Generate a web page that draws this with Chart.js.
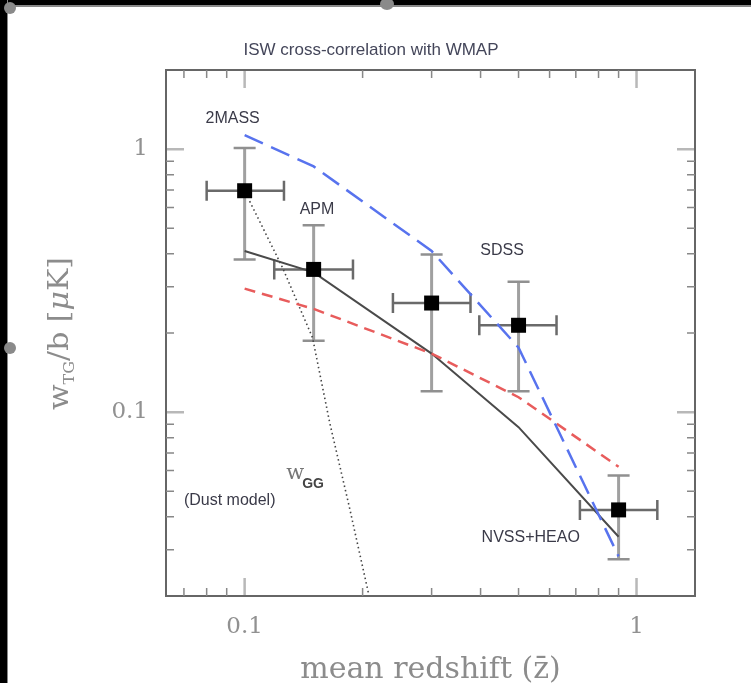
<!DOCTYPE html>
<html><head><meta charset="utf-8">
<script src="https://cdn.jsdelivr.net/npm/chart.js@4.4.1/dist/chart.umd.min.js"></script>
<style>
html,body{margin:0;padding:0;background:#fff;width:751px;height:683px;overflow:hidden;}
#wrap{position:relative;width:751px;height:683px;}
canvas{position:absolute;left:0;top:0;}
.bar{position:absolute;background:#000;}
.dot{position:absolute;background:#8a8a8a;border-radius:50%;}
</style></head><body>
<div id="wrap">
<canvas id="c" width="751" height="683"></canvas>
<div class="bar" style="left:0;top:0;width:751px;height:5px;border-bottom:2px solid #888"></div>
<div class="bar" style="left:0;top:0;width:7px;height:683px;border-right:1px solid #888"></div>
<div class="dot" style="left:380px;top:-2px;width:14px;height:12px"></div>
<div class="dot" style="left:4px;top:342px;width:12px;height:12px"></div>
<div class="dot" style="left:4px;top:2px;width:12px;height:12px"></div>
</div>
<script>
// ---- data ----
const pointNames = ['2MASS', 'APM', 'SDSS-1', 'SDSS-2', 'NVSS+HEAO'];
const zMean = [0.10, 0.15, 0.30, 0.50, 0.90];
const zLow  = [0.080, 0.119, 0.239, 0.397, 0.717];
const zHigh = [0.126, 0.189, 0.377, 0.625, 1.13];
const wTG   = [0.695, 0.349, 0.260, 0.214, 0.0425];
const wLow  = [0.381, 0.187, 0.120, 0.120, 0.0276];
const wHigh = [1.01, 0.514, 0.398, 0.313, 0.0575];

const modelZ     = [0.10, 0.15, 0.30, 0.50, 0.90];
const modelBlue  = [1.13, 0.86, 0.41, 0.176, 0.0283];
const modelRed   = [0.295, 0.247, 0.167, 0.114, 0.062];
const modelBlack = [0.41, 0.34, 0.167, 0.0877, 0.0336];

const dustZ = [0.103, 0.125, 0.149, 0.165, 0.185, 0.207];
const dustW = [0.634, 0.354, 0.192, 0.0906, 0.0436, 0.0205];

const xTickValues = [0.1, 1];
const yTickValues = [0.1, 1];
const xMinorTicks = [0.07, 0.08, 0.09, 0.2, 0.3, 0.4, 0.5, 0.6, 0.7, 0.8, 0.9];
const yMinorTicks = [0.03, 0.04, 0.05, 0.06, 0.07, 0.08, 0.09, 0.2, 0.3, 0.4, 0.5, 0.6, 0.7, 0.8, 0.9];

const titleText = 'ISW cross-correlation with WMAP';
const xTitle = 'mean redshift (z\u0304)';
const labelTexts = ['2MASS', 'APM', 'SDSS', 'NVSS+HEAO', '(Dust model)'];
const labelZ = [0.0932, 0.153, 0.454, 0.537, 0.0916];
const labelW = [1.31, 0.591, 0.413, 0.0333, 0.0463];

// ---- helpers ----
const pts = (xs, ys) => xs.map((x, i) => ({x, y: ys[i]}));

const decor = {
  id: 'decor',
  beforeDatasetsDraw(chart) {
    const {ctx, scales: {x, y}} = chart;
    ctx.save();
    ctx.lineCap = 'butt';
    zMean.forEach((z, i) => {
      const px = x.getPixelForValue(z), py = y.getPixelForValue(wTG[i]);
      const yl = y.getPixelForValue(wLow[i]), yh = y.getPixelForValue(wHigh[i]);
      const xl = x.getPixelForValue(zLow[i]), xh = x.getPixelForValue(zHigh[i]);
      ctx.strokeStyle = '#a0a0a0'; ctx.lineWidth = 3;
      ctx.beginPath(); ctx.moveTo(px, yl); ctx.lineTo(px, yh); ctx.stroke();
      ctx.strokeStyle = '#909090'; ctx.lineWidth = 2.5;
      ctx.beginPath(); ctx.moveTo(px - 11, yl); ctx.lineTo(px + 11, yl);
      ctx.moveTo(px - 11, yh); ctx.lineTo(px + 11, yh); ctx.stroke();
      ctx.strokeStyle = '#6a6a6a'; ctx.lineWidth = 2.5;
      ctx.beginPath(); ctx.moveTo(xl, py); ctx.lineTo(xh, py);
      ctx.moveTo(xl, py - 10); ctx.lineTo(xl, py + 10);
      ctx.moveTo(xh, py - 10); ctx.lineTo(xh, py + 10); ctx.stroke();
    });
    ctx.restore();
  },
  afterDraw(chart) {
    const {ctx, chartArea: a, scales: {x, y}} = chart;
    ctx.save();
    ctx.strokeStyle = '#666'; ctx.lineWidth = 2;
    ctx.strokeRect(a.left, a.top, a.right - a.left, a.bottom - a.top);
    ctx.strokeStyle = '#888'; ctx.lineWidth = 1.5;
    ctx.beginPath();
    xMinorTicks.forEach(v => { const p = x.getPixelForValue(v);
      ctx.moveTo(p, a.bottom); ctx.lineTo(p, a.bottom - 8);
      ctx.moveTo(p, a.top); ctx.lineTo(p, a.top + 8); });
    yMinorTicks.forEach(v => { const p = y.getPixelForValue(v);
      ctx.moveTo(a.left, p); ctx.lineTo(a.left + 8, p);
      ctx.moveTo(a.right, p); ctx.lineTo(a.right - 8, p); });
    ctx.stroke();
    ctx.strokeStyle = '#b8b8b8'; ctx.lineWidth = 2.5;
    ctx.beginPath();
    xTickValues.forEach(v => { const p = x.getPixelForValue(v);
      ctx.moveTo(p, a.bottom - 1); ctx.lineTo(p, a.bottom - 18);
      ctx.moveTo(p, a.top + 1); ctx.lineTo(p, a.top + 18); });
    yTickValues.forEach(v => { const p = y.getPixelForValue(v);
      ctx.moveTo(a.left + 1, p); ctx.lineTo(a.left + 18, p);
      ctx.moveTo(a.right - 1, p); ctx.lineTo(a.right - 18, p); });
    ctx.stroke();

    ctx.fillStyle = '#44465a';
    ctx.font = '17px "Liberation Sans", Arial, sans-serif';
    ctx.textAlign = 'center'; ctx.textBaseline = 'middle';
    ctx.fillText(titleText, 371, 50);

    ctx.font = '16px "Liberation Sans", Arial, sans-serif';
    ctx.fillStyle = '#3a3a48';
    labelTexts.forEach((t, i) => {
      ctx.fillText(t, x.getPixelForValue(labelZ[i]), y.getPixelForValue(labelW[i]));
    });
    const gx = x.getPixelForValue(0.133), gy = y.getPixelForValue(0.0586);
    ctx.fillStyle = '#777';
    ctx.font = '21px "DejaVu Serif", serif';
    ctx.textAlign = 'left'; ctx.textBaseline = 'alphabetic';
    ctx.fillText('w', gx - 7, gy + 6);
    ctx.fillStyle = '#444';
    ctx.font = 'bold 14px "Liberation Sans", Arial, sans-serif';
    ctx.fillText('GG', gx + 9, gy + 15);

    ctx.save();
    ctx.translate(68, 410);
    ctx.rotate(-Math.PI / 2);
    ctx.fillStyle = '#8c8c8c';
    ctx.textAlign = 'left'; ctx.textBaseline = 'alphabetic';
    const segs = [
      {t: 'w', f: '28px "DejaVu Serif", serif', dy: 0},
      {t: 'TG', f: '15px "DejaVu Serif", serif', dy: 6},
      {t: '/b [', f: '28px "DejaVu Serif", serif', dy: 0},
      {t: '\u03BC', f: 'italic 28px "DejaVu Serif", serif', dy: 0},
      {t: 'K]', f: '28px "DejaVu Serif", serif', dy: 0}
    ];
    let cx = 0;
    const total = segs.reduce((acc, s) => { ctx.font = s.f; return acc + ctx.measureText(s.t).width; }, 0);
    ctx.scale(153 / total, 1);
    segs.forEach(s => { ctx.font = s.f; ctx.fillText(s.t, cx, s.dy); cx += ctx.measureText(s.t).width; });
    ctx.restore();
    ctx.restore();
  }
};

const tickFont = {family: '"DejaVu Serif", serif', size: 23};

new Chart(document.getElementById('c'), {
  type: 'scatter',
  data: {
    datasets: [
      {label: 'data', data: pts(zMean, wTG), pointStyle: 'rect', pointRadius: 10.6,
       backgroundColor: '#000', borderWidth: 0, showLine: false, order: 0},
      {label: 'blue', data: pts(modelZ, modelBlue), showLine: true, pointRadius: 0,
       borderColor: 'rgb(88,115,238)', borderWidth: 2.5, borderDash: [20, 9], order: 1},
      {label: 'red', data: pts(modelZ, modelRed), showLine: true, pointRadius: 0,
       borderColor: 'rgb(232,92,92)', borderWidth: 2.5, borderDash: [11, 7], order: 2},
      {label: 'black', data: pts(modelZ, modelBlack), showLine: true, pointRadius: 0,
       borderColor: '#4a4a4a', borderWidth: 2, order: 3},
      {label: 'dust', data: pts(dustZ, dustW), showLine: true, pointRadius: 0,
       borderColor: '#444', borderWidth: 1.6, borderDash: [1.5, 3], order: 4}
    ]
  },
  options: {
    responsive: false, animation: false, devicePixelRatio: 1,
    layout: {padding: {left: 0, right: 56, top: 70, bottom: 0}},
    plugins: {legend: {display: false}, tooltip: {enabled: false}, title: {display: false}},
    scales: {
      x: {
        type: 'logarithmic', min: 0.063, max: 1.41,
        grid: {display: false, drawTicks: false}, border: {display: false},
        afterBuildTicks: s => { s.ticks = xTickValues.map(v => ({value: v, major: true})); },
        afterFit: s => { s.height = 87; },
        ticks: {font: tickFont, color: '#919191', padding: 17, maxRotation: 0,
                autoSkip: false, callback: v => String(v)},
        title: {display: true, text: xTitle, color: '#8c8c8c',
                font: {family: '"DejaVu Serif", serif', size: 30}, padding: {top: 0, bottom: -5}}
      },
      y: {
        type: 'logarithmic', min: 0.02, max: 2,
        grid: {display: false, drawTicks: false}, border: {display: false},
        afterBuildTicks: s => { s.ticks = yTickValues.map(v => ({value: v, major: true})); },
        afterFit: s => { s.width = 166; },
        ticks: {font: tickFont, color: '#919191', padding: 18, autoSkip: false,
                callback: v => String(v)}
      }
    }
  },
  plugins: [decor]
});
</script>
</body></html>
